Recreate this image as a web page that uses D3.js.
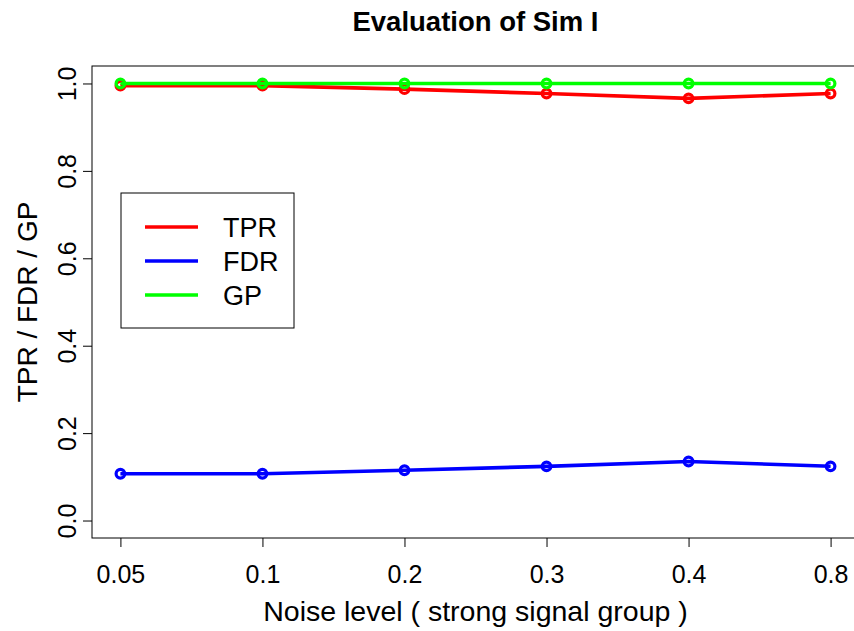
<!DOCTYPE html>
<html>
<head>
<meta charset="utf-8">
<script src="https://cdn.jsdelivr.net/npm/d3@7"></script>
<style>
  html, body { margin: 0; padding: 0; background: #fff; }
  svg { display: block; font-family: "Liberation Sans", Arial, Helvetica, sans-serif; }
</style>
</head>
<body>
<svg id="chart" width="854" height="631"></svg>
<script>
const categories = ["0.05", "0.1", "0.2", "0.3", "0.4", "0.8"];
const tpr = [0.995, 0.995, 0.987, 0.977, 0.966, 0.977];
const fdr = [0.107, 0.107, 0.115, 0.124, 0.135, 0.124];
const gp = [1.0, 1.0, 1.0, 1.0, 1.0, 1.0];
const yTicks = [0, 0.2, 0.4, 0.6, 0.8, 1.0];
const seriesNames = ["TPR", "FDR", "GP"];
const seriesColors = ["#ff0000", "#0000ff", "#00ff00"];
const title = "Evaluation of Sim I";
const xLabel = "Noise level ( strong signal group )";
const yLabel = "TPR / FDR / GP";

const svg = d3.select("#chart");
const box = { left: 92, top: 66, right: 859, bottom: 538 };

const x = d3.scaleLinear().domain([0.8, 6.2]).range([box.left, box.right]);
const y = d3.scaleLinear().domain([-0.04, 1.04]).range([box.bottom, box.top]);

// plot box
svg.append("rect")
  .attr("x", box.left).attr("y", box.top)
  .attr("width", box.right - box.left).attr("height", box.bottom - box.top)
  .attr("fill", "none").attr("stroke", "#000").attr("stroke-width", 1);

// x axis
const xAxis = d3.axisBottom(x)
  .tickValues(categories.map((d, i) => i + 1))
  .tickFormat((d, i) => categories[i])
  .tickSize(9).tickSizeOuter(0);
const gx = svg.append("g").attr("transform", `translate(0,${box.bottom})`).call(xAxis);
gx.select(".domain").remove();
gx.selectAll("line").attr("stroke", "#000");
gx.selectAll("text").attr("font-size", 25).attr("fill", "#000").attr("dy", null).attr("y", 45);

// y axis
const yAxis = d3.axisLeft(y).tickValues(yTicks).tickFormat(d3.format(".1f")).tickSize(9).tickSizeOuter(0);
const gy = svg.append("g").attr("transform", `translate(${box.left},0)`).call(yAxis);
gy.select(".domain").remove();
gy.selectAll("line").attr("stroke", "#000");
gy.selectAll("text")
  .attr("font-size", 25).attr("fill", "#000")
  .attr("x", null).attr("dy", null)
  .attr("text-anchor", "middle")
  .attr("transform", "translate(-16,0) rotate(-90)");

// series
const series = [tpr, fdr, gp];
const line = d3.line().x((d, i) => x(i + 1)).y(d => y(d));
series.forEach((vals, s) => {
  const g = svg.append("g");
  g.append("path").datum(vals)
    .attr("d", line).attr("fill", "none")
    .attr("stroke", seriesColors[s]).attr("stroke-width", 3.6);
  g.selectAll("circle").data(vals).join("circle")
    .attr("cx", (d, i) => x(i + 1)).attr("cy", d => y(d))
    .attr("r", 4.3).attr("fill", "none")
    .attr("stroke", seriesColors[s]).attr("stroke-width", 3.2);
});

// legend
const lg = svg.append("g");
lg.append("rect").attr("x", 121).attr("y", 193).attr("width", 173).attr("height", 135)
  .attr("fill", "#fff").attr("stroke", "#000").attr("stroke-width", 1);
seriesNames.forEach((n, i) => {
  const ly = 227 + i * 34;
  lg.append("line").attr("x1", 145).attr("x2", 198).attr("y1", ly).attr("y2", ly)
    .attr("stroke", seriesColors[i]).attr("stroke-width", 3.6);
  lg.append("text").attr("x", 223).attr("y", ly + 10).attr("font-size", 27).attr("fill", "#000").text(n);
});

// titles
svg.append("text").attr("x", (box.left + box.right) / 2).attr("y", 31)
  .attr("text-anchor", "middle").attr("font-size", 27.5).attr("font-weight", "bold").text(title);
svg.append("text").attr("x", (box.left + box.right) / 2).attr("y", 621)
  .attr("text-anchor", "middle").attr("font-size", 28.5).text(xLabel);
svg.append("text").attr("transform", `translate(37,${(box.top + box.bottom) / 2}) rotate(-90)`)
  .attr("text-anchor", "middle").attr("font-size", 28).text(yLabel);
</script>
</body>
</html>
